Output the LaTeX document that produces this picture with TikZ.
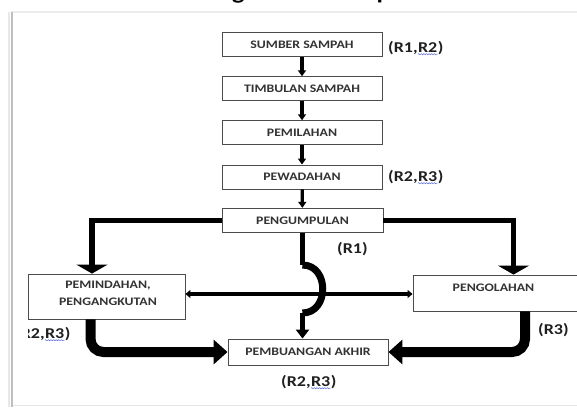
\documentclass[tikz,border=0pt]{standalone}
\usepackage{fontspec}
\setmainfont{Carlito}
\newfontfamily\wfont[FakeStretch=1.2]{Carlito}
\usetikzlibrary{arrows.meta,decorations.pathmorphing,calc}
\definecolor{wavyblue}{HTML}{5468D8}
\definecolor{boxtext}{HTML}{333333}
\newcommand\rlab[5]{%
  \node[lbl, anchor=base west] (#1a) at #2 {#3};
  \node[lbl, anchor=base west] (#1b) at (#1a.base east) {#4};
  \node[lbl, anchor=base west] (#1c) at (#1b.base east) {#5};
  \draw[wavy] ([yshift=-2.2pt]#1b.base west) -- ([yshift=-2.2pt]#1b.base east);}
\begin{document}
\begin{tikzpicture}[x=1pt,y=-1pt,
  box/.style={draw=black!70, line width=0.9pt, fill=white, inner sep=0pt,
    minimum width=160pt, minimum height=24pt,
    font=\wfont\fontsize{11.5}{13}\selectfont\bfseries, text=boxtext},
  btext/.style={inner sep=0pt, align=center,
    font=\wfont\fontsize{11.5}{17}\selectfont\bfseries, text=boxtext},
  lbl/.style={inner sep=0pt, font=\wfont\fontsize{15}{17}\selectfont\bfseries, text=black!88},
  wavy/.style={draw=wavyblue, line width=0.5pt, decorate,
    decoration={snake, amplitude=0.6pt, segment length=2.6pt}},
  thinarrow/.style={line width=3.2pt, -{Triangle[width=8pt,length=6pt]}},
  midline/.style={line width=5.5pt},
  fatarrow/.style={line width=10pt, rounded corners=13pt, -{Triangle[width=24pt,length=14pt]}},
]
\useasboundingbox (0,0) rectangle (577,407);
\fill[white] (0,0) rectangle (577,407);
% frame of the screenshot
\draw[black!8, line width=1.5pt] (11,12) -- (577,12);
\draw[black!10, line width=1pt] (11,405) -- (577,405);
\draw[black!9, line width=2pt] (9,12) -- (9,407);
\draw[black!25, line width=2pt] (12,12) -- (12,407);

\begin{scope}
\clip (28,0) rectangle (577,407);
\node[inner sep=0pt, anchor=base, font=\wfont\fontsize{21.8}{24}\selectfont\bfseries] (title) at (304.5,-0.5) {Pengelolaan Sampah};

% top column
\node[box] (s1) at (302,44.5) {SUMBER SAMPAH};
\node[box] (s2) at (302,88.7) {TIMBULAN SAMPAH};
\node[box] (s3) at (302,132.7) {PEMILAHAN};
\node[box] (s4) at (302,177) {PEWADAHAN};
\node[box, minimum width=161pt] (s5) at (302.5,220.3) {PENGUMPULAN};

% lower boxes
\node[box, minimum width=157pt, minimum height=45pt] (L) at (106.5,296.5) {};
\node[btext] (Lt) at (108,293.5) {PEMINDAHAN,\\PENGANGKUTAN};
\node[box, minimum width=167pt, minimum height=36pt] (R) at (496.5,293) {};
\node[btext] (Rt) at (493.5,288) {PENGOLAHAN};
\node[box, minimum height=26pt] (B) at (308,352) {PEMBUANGAN AKHIR};

% thin arrows
\draw[thinarrow] (s1) -- (s2);
\draw[thinarrow] (s2) -- (s3);
\draw[thinarrow] (s3) -- (s4);
\draw[thinarrow] (s4) -- (s5);

% branches from PENGUMPULAN
\draw[midline, -{Triangle[width=31pt,length=9pt]}] (s5.west) -| ([xshift=-14.5pt]L.north);
\draw[midline, -{Triangle[width=31pt,length=9pt]}] (s5.east) -| ([xshift=17pt]R.north);

% centre line with jump
\coordinate (j1) at (302.5,265);
\coordinate (j2) at (302.5,313);
\coordinate (hy) at (300,294);
\draw[midline] (s5.south) -- (j1);
\draw[line width=7pt] (j1) .. controls +(27,0) and +(27,0) .. (j2);
\draw[midline, -{Triangle[width=13pt,length=9pt]}] (j2) -- (j2 |- B.north);

% double arrow
\draw[line width=3.4pt, {Triangle[width=8pt,length=5pt]}-{Triangle[width=8pt,length=5pt]}] (L.east |- hy) -- (R.west |- hy);

% fat arrows to PEMBUANGAN AKHIR
\draw[fatarrow] ([xshift=-16pt]L.south) |- (B.west);
\draw[fatarrow] ([xshift=28.5pt]R.south) |- (B.east);

% labels
\rlab{la}{(388,52)}{(R1,}{R2}{)}
\rlab{lb}{(388,181)}{(R2,}{R3}{)}
\node[lbl, anchor=base west] (lc) at (337,253) {(R1)};
\rlab{ld}{(15,338)}{(R2,}{R3}{)}
\node[lbl, anchor=base west] (le) at (538,334) {(R3)};
\rlab{lf}{(281,386)}{(R2,}{R3}{)}
\end{scope}
\end{tikzpicture}
\end{document}
